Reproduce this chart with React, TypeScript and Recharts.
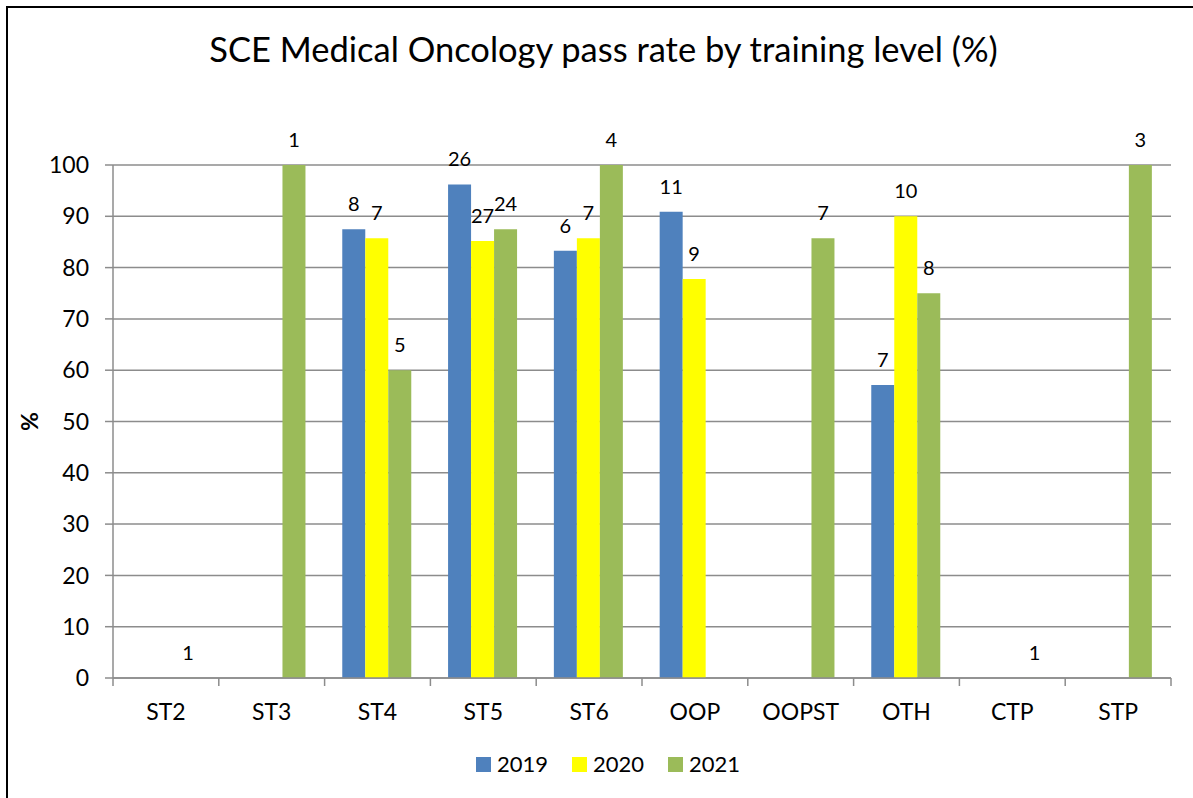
import { BarChart, Bar, XAxis, YAxis, CartesianGrid, LabelList, Text } from "recharts";

const categories = ["ST2", "ST3", "ST4", "ST5", "ST6", "OOP", "OOPST", "OTH", "CTP", "STP"];

// pass rate (%) per year, null = no candidates
const rate2019 = [null, null, 87.5, 96.2, 83.3, 90.9, null, 57.1, null, null];
const rate2020 = [null, null, 85.7, 85.2, 85.7, 77.8, null, 90, null, null];
const rate2021 = [0, 100, 60, 87.5, 100, null, 85.7, 75, 0, 100];

// number of candidates shown above bars
const count2019 = [null, null, 8, 26, 6, 11, null, 7, null, null];
const count2020 = [null, null, 7, 27, 7, 9, null, 10, null, null];
const count2021 = [1, 1, 5, 24, 4, null, 7, 8, 1, 3];

const yTicks = [0, 10, 20, 30, 40, 50, 60, 70, 80, 90, 100];

const series = [
  { key: "y2019", countKey: "c2019", name: "2019", color: "#4F81BD" },
  { key: "y2020", countKey: "c2020", name: "2020", color: "#FFFF00" },
  { key: "y2021", countKey: "c2021", name: "2021", color: "#9BBB59" },
];

const data = categories.map((name, i) => ({
  name,
  y2019: rate2019[i],
  y2020: rate2020[i],
  y2021: rate2021[i],
  c2019: count2019[i],
  c2020: count2020[i],
  c2021: count2021[i],
}));

const FONT = "Lato, 'Open Sans', sans-serif";
const GRID = "#8C8C8C";
const TICK_SIZE = 8;
const X_TICK_MARGIN = 18;

const W = 1193;
const H = 798;
const margin = { top: 165, right: 22, bottom: 60, left: 23 };
const Y_AXIS_W = 90;
const BAND = (W - margin.left - Y_AXIS_W - margin.right) / categories.length;

const CategoryTick = (props: any) => {
  const { x, y, payload, index } = props;
  const y0 = y - TICK_SIZE - X_TICK_MARGIN;
  const half = BAND / 2;
  return (
    <g>
      <line x1={x - half} x2={x - half} y1={y0} y2={y0 + TICK_SIZE} stroke={GRID} strokeWidth={1.5} />
      {index === categories.length - 1 && (
        <line x1={x + half} x2={x + half} y1={y0} y2={y0 + TICK_SIZE} stroke={GRID} strokeWidth={1.5} />
      )}
      <Text x={x} y={y} textAnchor="middle" verticalAnchor="start" fontSize={23} fontFamily={FONT} fill="#000">
        {payload.value}
      </Text>
    </g>
  );
};

const CountLabel = (props: any) => {
  const { x, y, width, height, value } = props;
  if (value == null) return null;
  const top = Math.min(y, y + (height || 0));
  return (
    <Text
      x={x + width / 2}
      y={top - 18}
      textAnchor="middle"
      verticalAnchor="end"
      fontSize={20}
      fontFamily={FONT}
      fill="#000"
    >
      {value}
    </Text>
  );
};

const PercentLabel = (props: any) => {
  const vb = props.viewBox || {};
  const cx = 28.5;
  const cy = vb.y + vb.height / 2;
  return (
    <text
      x={cx}
      y={cy}
      transform={`rotate(-90, ${cx}, ${cy})`}
      textAnchor="middle"
      dominantBaseline="central"
      fontSize={23}
      fontWeight="bold"
      fontFamily={FONT}
      fill="#000"
    >
      %
    </text>
  );
};

export default function App() {
  return (
    <div style={{ position: "absolute", left: 0, top: 0, width: W, height: H, overflow: "hidden", background: "#fff", fontFamily: FONT }}>
      <div
        style={{
          position: "absolute",
          left: 6,
          top: 6,
          width: W + 20,
          height: H + 20,
          borderTop: "2px solid #000",
          borderLeft: "2px solid #000",
        }}
      />
      <div
        style={{
          position: "absolute",
          left: 0,
          width: 1207,
          top: 32,
          textAlign: "center",
          fontSize: 34.5,
          lineHeight: 1,
          color: "#000",
        }}
      >
        SCE Medical Oncology pass rate by training level (%)
      </div>
      <BarChart width={W} height={H} data={data} margin={margin} barCategoryGap="16.7%" barGap={0}>
        <CartesianGrid vertical={false} stroke={GRID} strokeWidth={1.5} />
        <XAxis
          dataKey="name"
          axisLine={{ stroke: GRID, strokeWidth: 1.5 }}
          tickLine={false}
          tickSize={TICK_SIZE}
          tickMargin={X_TICK_MARGIN}
          height={60}
          interval={0}
          tick={<CategoryTick />}
        />
        <YAxis
          domain={[0, 100]}
          ticks={yTicks}
          width={Y_AXIS_W}
          axisLine={{ stroke: GRID, strokeWidth: 1.5 }}
          tickLine={{ stroke: GRID, strokeWidth: 1.5 }}
          tickSize={TICK_SIZE}
          tickMargin={16}
          tick={{ fill: "#000", fontSize: 23, fontFamily: FONT }}
          label={<PercentLabel />}
        />
        {series.map((s) => (
          <Bar key={s.key} dataKey={s.key} name={s.name} fill={s.color} minPointSize={0.1} isAnimationActive={false}>
            <LabelList dataKey={s.countKey} content={<CountLabel />} />
          </Bar>
        ))}
      </BarChart>
      <div style={{ position: "absolute", left: 476, top: 753, display: "flex", alignItems: "center", gap: 24 }}>
        {series.map((s) => (
          <div key={s.key} style={{ display: "flex", alignItems: "center", gap: 6, height: 22 }}>
            <span style={{ display: "inline-block", width: 15, height: 15, background: s.color }} />
            <span style={{ fontSize: 22, lineHeight: "22px", color: "#000" }}>{s.name}</span>
          </div>
        ))}
      </div>
    </div>
  );
}
